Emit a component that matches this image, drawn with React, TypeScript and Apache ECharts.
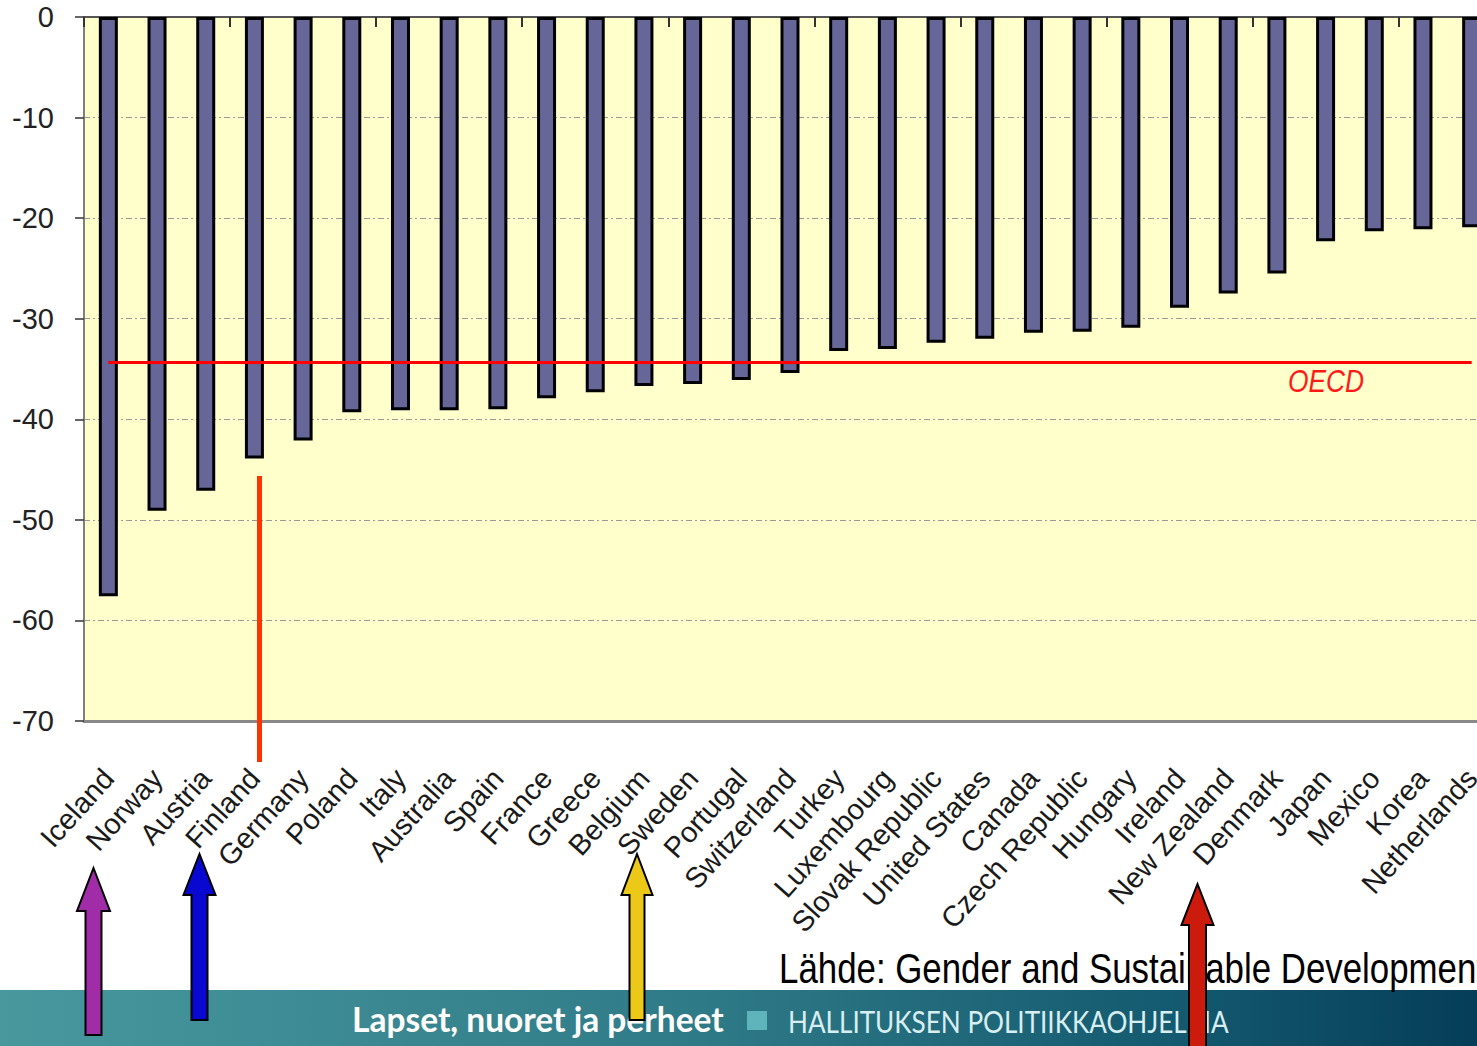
import React, { useEffect, useRef } from "react";
import * as echarts from "echarts";

const categories = [
  "Iceland", "Norway", "Austria", "Finland", "Germany", "Poland", "Italy", "Australia",
  "Spain", "France", "Greece", "Belgium", "Sweden", "Portugal", "Switzerland", "Turkey",
  "Luxembourg", "Slovak Republic", "United States", "Canada", "Czech Republic", "Hungary",
  "Ireland", "New Zealand", "Denmark", "Japan", "Mexico", "Korea", "Netherlands",
];

const values = [
  -57.6, -49.1, -47.1, -43.9, -42.1, -39.3, -39.1, -39.1,
  -39.0, -37.9, -37.3, -36.7, -36.5, -36.1, -35.4, -33.2,
  -33.0, -32.4, -32.0, -31.4, -31.3, -30.9,
  -28.9, -27.5, -25.5, -22.3, -21.3, -21.1, -20.9,
];

const oecdValue = -34.3;
const oecdLabel = "OECD";
const yMin = -70;
const yMax = 0;
const yStep = 10;

const sourceText = "Lähde: Gender and Sustainable Development";
const bannerTitle = "Lapset, nuoret ja perheet";
const bannerSubtitle = "HALLITUKSEN POLITIIKKAOHJELMA";

export default function App() {
  const ref = useRef<HTMLDivElement>(null);

  useEffect(() => {
    const chart = echarts.init(ref.current as HTMLDivElement, null, { renderer: "svg" });
    const sans = "'Liberation Sans', Arial, sans-serif";
    const humanist = "Lato, 'Open Sans', sans-serif";

    const arrow = (
      cx: number, tipY: number, headY: number, headHalf: number,
      shaftHalf: number, bottomY: number, color: string
    ) => ({
      type: "polygon",
      z: 100,
      shape: {
        points: [
          [cx, tipY], [cx + headHalf, headY], [cx + shaftHalf, headY],
          [cx + shaftHalf, bottomY], [cx - shaftHalf, bottomY],
          [cx - shaftHalf, headY], [cx - headHalf, headY],
        ],
      },
      style: { fill: color, stroke: "#000", lineWidth: 2 },
    });

    chart.setOption({
      animation: false,
      backgroundColor: "#ffffff",
      grid: {
        left: 84,
        top: 17,
        width: 1412,
        height: 704,
        show: true,
        backgroundColor: "#ffffcc",
        borderWidth: 0,
        containLabel: false,
      },
      xAxis: [
        {
          type: "category",
          data: categories,
          position: "bottom",
          axisLine: { onZero: false, lineStyle: { color: "#888888", width: 3 } },
          axisTick: { show: false },
          axisLabel: {
            interval: 0,
            rotate: 48,
            fontSize: 29,
            fontFamily: sans,
            color: "#1a1a1a",
            margin: 52,
            verticalAlign: "middle",
          },
          splitLine: { show: false },
        },
        {
          type: "category",
          data: categories,
          position: "top",
          axisLine: { onZero: false, lineStyle: { color: "#555555", width: 2 } },
          axisTick: { show: true, inside: true, length: 10, lineStyle: { color: "#333333", width: 2 } },
          axisLabel: { show: false },
          splitLine: { show: false },
        },
      ],
      yAxis: {
        type: "value",
        min: yMin,
        max: yMax,
        interval: yStep,
        axisLine: { show: true, lineStyle: { color: "#808080", width: 2 } },
        axisTick: { show: true, length: 9, lineStyle: { color: "#333333", width: 1.5 } },
        axisLabel: { fontSize: 29, fontFamily: sans, color: "#222222", margin: 30 },
        splitLine: { show: true, lineStyle: { color: "#999999", width: 1, type: [6, 3, 2, 3] } },
      },
      series: [
        {
          type: "bar",
          xAxisIndex: 0,
          data: values,
          barWidth: 19,
          itemStyle: {
            color: "#666699",
            borderColor: "#000000",
            borderWidth: 3,
          },
          markLine: {
            silent: true,
            symbol: "none",
            label: { show: false },
            lineStyle: { color: "#ff0000", width: 3, type: "solid" },
            data: [
              [
                { coord: [0, oecdValue] },
                { coord: [categories.length - 1, oecdValue] },
              ],
            ],
          },
        },
      ],
      graphic: [
        {
          type: "text",
          z: 60,
          x: 1326,
          y: 381,
          scaleX: 0.85,
          style: {
            text: oecdLabel,
            fill: "#ff1a1a",
            font: `italic 31px ${sans}`,
            align: "center",
            verticalAlign: "middle",
          },
        },
        {
          type: "line",
          z: 60,
          shape: { x1: 259.5, y1: 476, x2: 259.5, y2: 762 },
          style: { stroke: "#ff3300", lineWidth: 5 },
        },
        {
          type: "text",
          z: 30,
          x: 779,
          y: 968,
          scaleX: 0.83,
          style: {
            text: sourceText,
            fill: "#000000",
            font: `42px ${sans}`,
            verticalAlign: "middle",
          },
        },
        {
          type: "rect",
          z: 10,
          shape: { x: 0, y: 990, width: 1560, height: 56 },
          style: {
            fill: new echarts.graphic.LinearGradient(0, 0, 1, 0, [
              { offset: 0, color: "#48989e" },
              { offset: 0.45, color: "#2f7a87" },
              { offset: 0.75, color: "#145a70" },
              { offset: 0.95, color: "#053d58" },
              { offset: 1, color: "#053d58" },
            ]),
          },
        },
        {
          type: "text",
          z: 20,
          x: 352,
          y: 1019,
          style: {
            text: bannerTitle,
            fill: "#ffffff",
            font: `bold 33.5px ${humanist}`,
            verticalAlign: "middle",
          },
        },
        {
          type: "rect",
          z: 20,
          shape: { x: 747, y: 1011, width: 20, height: 19 },
          style: { fill: "#5fb3bb" },
        },
        {
          type: "text",
          z: 20,
          x: 788,
          y: 1021,
          scaleX: 0.87,
          style: {
            text: bannerSubtitle,
            fill: "#d8eef0",
            font: `30px ${humanist}`,
            verticalAlign: "middle",
          },
        },
        arrow(93.5, 868, 911, 16.5, 8, 1035, "#a02ca8"),
        arrow(199.5, 854, 895, 16, 8, 1020, "#0808d0"),
        arrow(637, 854, 895, 15.5, 7.5, 1020, "#ecc818"),
        arrow(1197.5, 884, 925, 16, 8.5, 1060, "#cc1a0c"),
      ],
    });

    return () => chart.dispose();
  }, []);

  return (
    <div
      style={{
        position: "fixed",
        left: 0,
        top: 0,
        width: 1477,
        height: 1046,
        overflow: "hidden",
        background: "#ffffff",
      }}
    >
      <div ref={ref} style={{ width: 1560, height: 1046 }} />
    </div>
  );
}
